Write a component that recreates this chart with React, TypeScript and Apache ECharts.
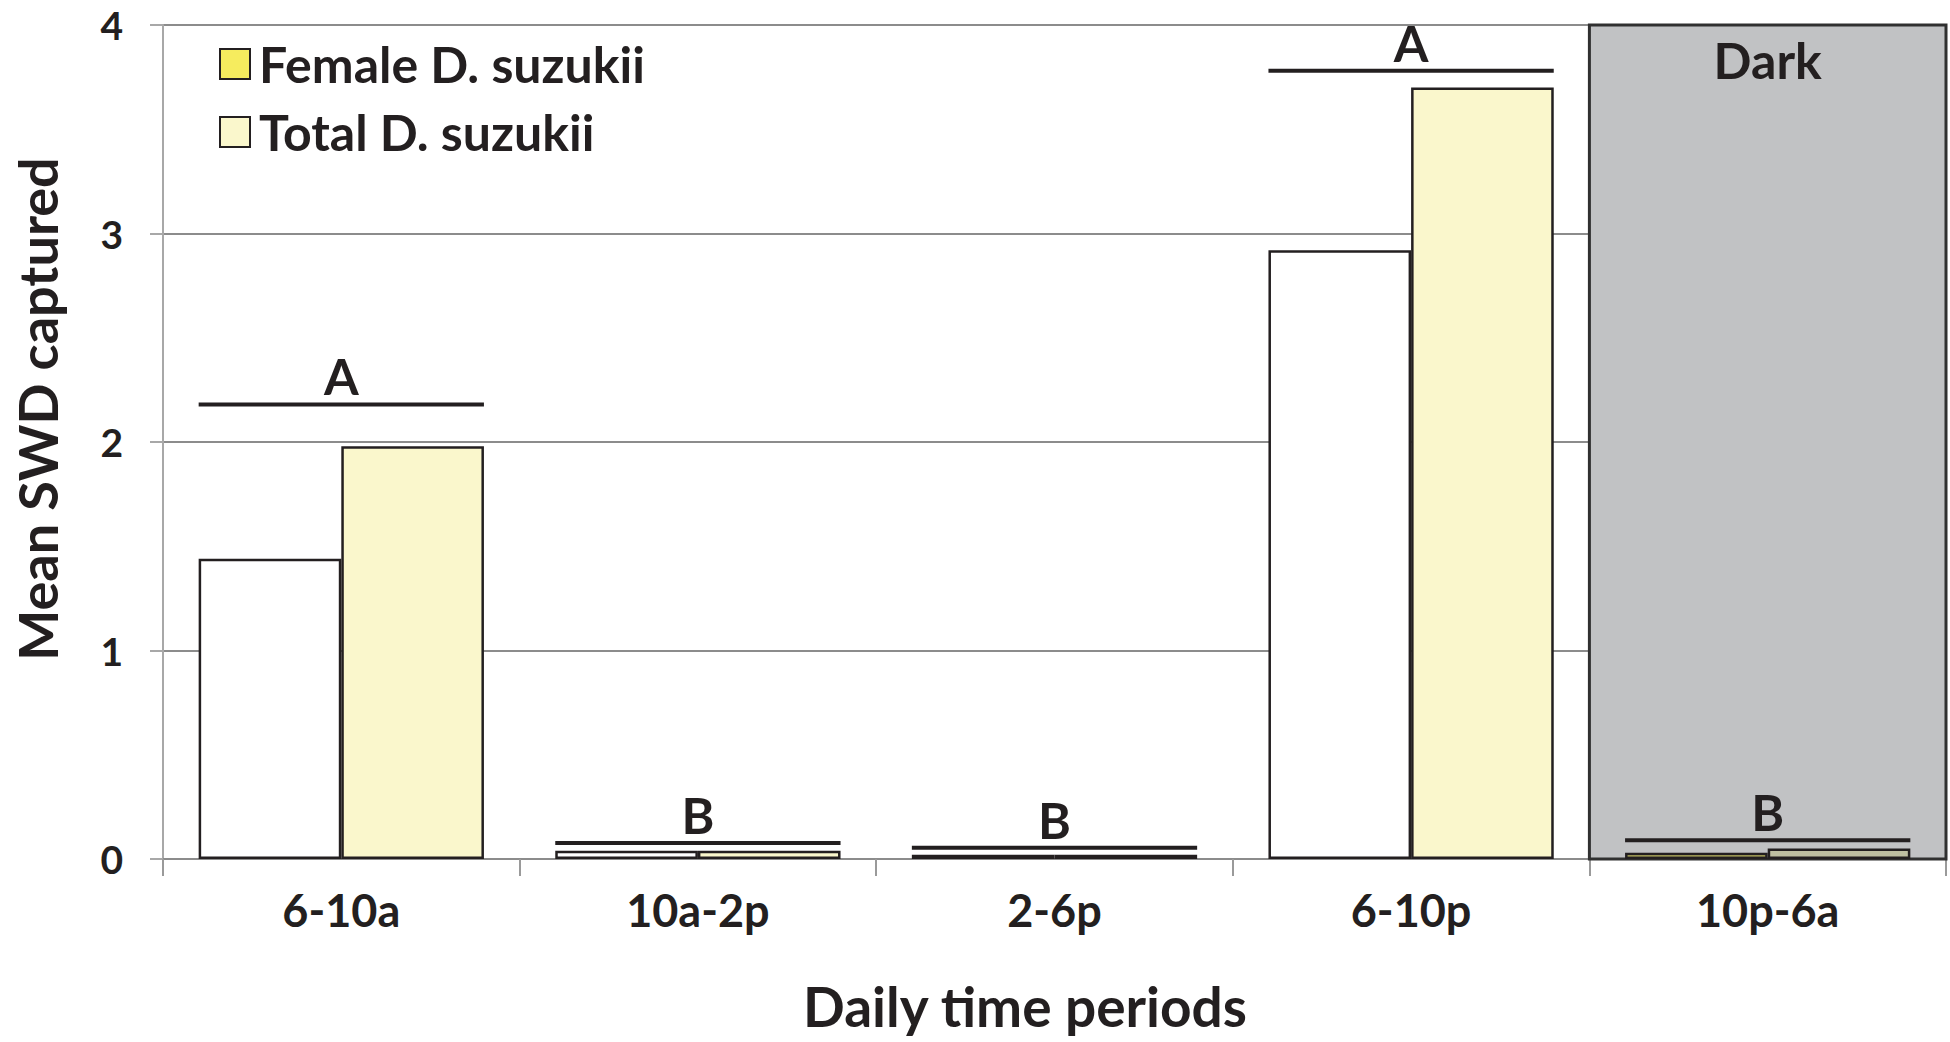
import React, { useEffect, useRef } from "react";
import * as echarts from "echarts";

// Trap catches of spotted-wing drosophila by time of day
const periods = ["6-10a", "10a-2p", "2-6p", "6-10p", "10p-6a"];
const femaleMeans = [1.44, 0.04, 0.02, 2.92, 0.03];
const totalMeans = [1.98, 0.04, 0.02, 3.7, 0.05];
// Mean-separation letters and the height of the bracket drawn under each
const sigLetters = ["A", "B", "B", "A", "B"];
const sigLevels = [2.18, 0.077, 0.054, 3.78, 0.09];
const darkPeriod = "10p-6a";
const yMax = 4;

const FONT = "Lato";
const INK = "#231f20";

export default function App() {
  const ref = useRef<HTMLDivElement>(null);

  useEffect(() => {
    document.body.style.margin = "0";
    const chart = echarts.init(ref.current!, null, { renderer: "svg" });
    const darkIdx = periods.indexOf(darkPeriod);

    const femaleColor = "#f6ec5e";
    const totalColor = "#faf7cc";

    const option: any = {
      animation: false,
      backgroundColor: "#ffffff",
      grid: { left: 163, top: 25, right: 4, bottom: 183 },
      legend: {
        orient: "vertical",
        left: 214,
        top: 34,
        itemWidth: 30,
        itemHeight: 30,
        itemGap: 18,
        icon: "rect",
        data: ["Female D. suzukii", "Total D. suzukii"],
        textStyle: {
          fontFamily: FONT,
          fontWeight: "bold",
          fontSize: 50,
          lineHeight: 50,
          color: INK,
          padding: [0, 0, 0, 4],
        },
        itemStyle: { borderColor: INK, borderWidth: 2 },
      },
      xAxis: {
        type: "category",
        data: periods,
        axisLine: { lineStyle: { color: "#8c8c8c", width: 2 } },
        axisTick: { show: true, length: 17, lineStyle: { color: "#9a9a9a", width: 2 } },
        axisLabel: { margin: 28, fontFamily: FONT, fontWeight: "bold", fontSize: 45, color: INK },
      },
      yAxis: {
        type: "value",
        min: 0,
        max: yMax,
        interval: 1,
        axisLine: { show: true, lineStyle: { color: "#a8a8a8", width: 2 } },
        axisTick: { show: true, length: 13, lineStyle: { color: "#a8a8a8", width: 2 } },
        axisLabel: { margin: 40, fontFamily: FONT, fontWeight: "bold", fontSize: 39, color: INK },
        splitLine: { lineStyle: { color: "#8c8c8c", width: 2 } },
      },
      graphic: [
        {
          type: "text",
          x: 37,
          y: 409,
          rotation: Math.PI / 2,
          style: {
            text: "Mean SWD captured",
            fontFamily: FONT,
            fontWeight: "bold",
            fontSize: 54,
            fill: INK,
            align: "center",
            verticalAlign: "middle",
          },
        },
        {
          type: "text",
          x: 1025,
          y: 1006,
          style: {
            text: "Daily time periods",
            fontFamily: FONT,
            fontWeight: "bold",
            fontSize: 55,
            fill: INK,
            align: "center",
            verticalAlign: "middle",
          },
        },
      ],
      series: [
        {
          type: "custom",
          name: "dark",
          z: 1,
          silent: true,
          data: [[darkIdx, yMax]],
          renderItem: (params: any, api: any) => {
            const top = api.coord([api.value(0), api.value(1)]);
            const bottom = api.coord([api.value(0), 0]);
            const band = api.size([1, 0])[0];
            return {
              type: "group",
              children: [
                {
                  type: "rect",
                  shape: { x: top[0] - band / 2, y: top[1], width: band, height: bottom[1] - top[1] },
                  style: { fill: "#c1c2c4", stroke: "#303030", lineWidth: 3 },
                },
                {
                  type: "text",
                  x: top[0],
                  y: top[1] + 35,
                  style: {
                    text: "Dark",
                    fontFamily: FONT,
                    fontWeight: "bold",
                    fontSize: 50,
                    fill: INK,
                    align: "center",
                    verticalAlign: "middle",
                  },
                },
              ],
            };
          },
        },
        {
          type: "bar",
          name: "Female D. suzukii",
          z: 3,
          barGap: "0%",
          barCategoryGap: "20%",
          itemStyle: { color: femaleColor, borderColor: INK, borderWidth: 2.5 },
          data: femaleMeans.map((v, i) => ({
            value: v,
            itemStyle: { color: i === darkIdx ? "#bfbd62" : "#ffffff" },
          })),
        },
        {
          type: "bar",
          name: "Total D. suzukii",
          z: 3,
          barGap: "0%",
          barCategoryGap: "20%",
          itemStyle: { color: totalColor, borderColor: INK, borderWidth: 2.5 },
          data: totalMeans.map((v, i) => ({
            value: v,
            itemStyle: { color: i === darkIdx ? "#bebfa1" : totalColor },
          })),
        },
        {
          type: "custom",
          name: "letters",
          z: 4,
          silent: true,
          data: sigLevels.map((v, i) => [i, v]),
          renderItem: (params: any, api: any) => {
            const c = api.coord([api.value(0), api.value(1)]);
            const half = api.size([1, 0])[0] * 0.4;
            return {
              type: "group",
              children: [
                {
                  type: "line",
                  shape: { x1: c[0] - half, y1: c[1], x2: c[0] + half, y2: c[1] },
                  style: { stroke: INK, lineWidth: 4 },
                },
                {
                  type: "text",
                  x: c[0],
                  y: c[1] - 28,
                  style: {
                    text: sigLetters[params.dataIndex],
                    fontFamily: FONT,
                    fontWeight: "bold",
                    fontSize: 50,
                    fill: INK,
                    align: "center",
                    verticalAlign: "middle",
                  },
                },
              ],
            };
          },
        },
      ],
    };

    chart.setOption(option);
    return () => chart.dispose();
  }, []);

  return <div ref={ref} style={{ width: 1950, height: 1042 }} />;
}
